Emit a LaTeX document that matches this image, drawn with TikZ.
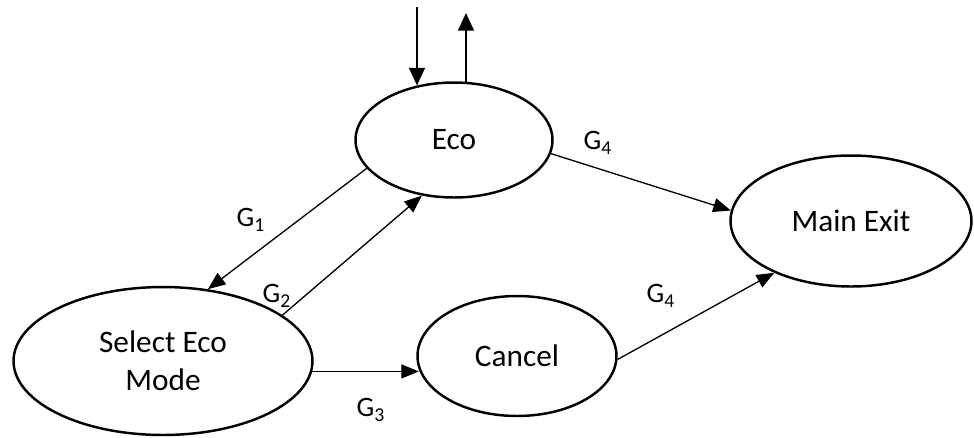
\documentclass[tikz,border=0pt]{standalone}
\usepackage{fontspec}
\setmainfont{Carlito}
\usetikzlibrary{shapes.geometric,arrows.meta}

\tikzset{
    state/.style={ellipse, draw, line width=1.4pt, inner sep=0pt, align=center,
        font=\fontsize{17.8}{21.5}\selectfont},
    trans/.style={-{Triangle[length=10pt,width=8pt]}, line width=0.75pt},
    ext/.style={-{Triangle[length=10pt,width=9pt]}, line width=1.1pt},
    glabel/.style={font=\fontsize{16}{18}\selectfont}
}

\begin{document}
\begin{tikzpicture}[x=0.02cm, y=-0.02cm]
    \useasboundingbox (0,0) rectangle (974,437);

    \node[state, minimum width=3.94cm, minimum height=2.3cm] (eco) at (454,140) {Eco};
    \node[state, minimum width=5.98cm, minimum height=2.96cm] (sel) at (163,361) {Select Eco\\Mode};
    \node[state, minimum width=3.98cm, minimum height=2.4cm] (cancel) at (517,356) {Cancel};
    \node[state, minimum width=4.82cm, minimum height=2.62cm] (exit) at (851,221) {Main Exit};

    % entry and return of the eco state
    \coordinate (in) at (417,7);
    \coordinate (out) at (466,13);
    \draw[ext] (in) -- (in |- eco.124);
    \draw[ext] (out |- eco.78) -- (out);

    \draw[trans] (eco.198) -- (sel.58);
    \draw[trans] (sel.21) -- (eco.240);
    \draw[trans] (sel.356) -- (sel.356 -| cancel.188);
    \draw[trans] (eco.352) -- (exit.175);
    \draw[trans] (cancel.358) -- (exit.214);

    \node[glabel] (g1) at (251,220) {G\textsubscript{1}};
    \node[glabel] (g2) at (277,296) {G\textsubscript{2}};
    \node[glabel] (g3) at (371,410) {G\textsubscript{3}};
    \node[glabel] (g4a) at (598,143) {G\textsubscript{4}};
    \node[glabel] (g4b) at (661,296) {G\textsubscript{4}};
\end{tikzpicture}
\end{document}
